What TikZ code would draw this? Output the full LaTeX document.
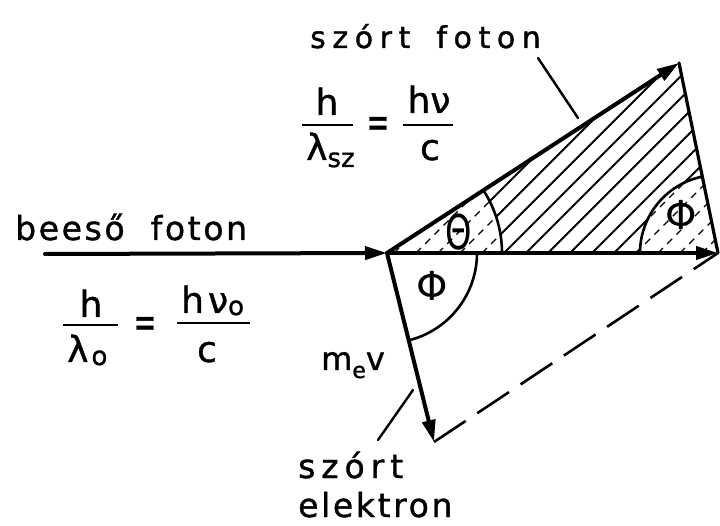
\documentclass[tikz,border=0pt]{standalone}
\usepackage{fontspec}
\usepackage{graphicx}
\setmainfont{DejaVu Sans}
\newfontfamily\frmfont[FakeBold=1.1]{DejaVu Sans}
\newfontfamily\labA[LetterSpace=8,FakeBold=1.2]{DejaVu Sans}
\newfontfamily\labB[LetterSpace=22,FakeBold=1.2]{DejaVu Sans}
\newfontfamily\labC[LetterSpace=18,FakeBold=1.2]{DejaVu Sans}
\newfontfamily\labD[LetterSpace=8,FakeBold=1.2]{DejaVu Sans}
\usetikzlibrary{arrows.meta}
\tikzset{
  vec/.style={line width=4pt, line cap=round, -{Triangle[length=22pt,width=13pt]}},
  edgeline/.style={line width=3.2pt, line cap=round},
  hatch/.style={line width=2pt},
  arcline/.style={line width=2.6pt},
  leader/.style={line width=2.4pt, line cap=round},
  fracbar/.style={line width=2.6pt},
  frm/.style={font=\frmfont\fontsize{36}{40}\selectfont, inner sep=0pt},
  ang/.style={font=\fontsize{40}{44}\selectfont, inner sep=0pt},
}
\begin{document}
\begin{tikzpicture}[x=1pt,y=1pt]
\useasboundingbox (0,0) rectangle (720,525);
% key points
\coordinate (S) at (45,271);
\coordinate (O) at (387,272);
\coordinate (P) at (679,462);
\coordinate (R) at (718,272);
\coordinate (E) at (434,83);
% hatching of the triangle
\begin{scope}
  \clip (O) -- (P) -- (R) -- cycle;
  \foreach \k in {-9,...,7} \draw[hatch] (570+22*\k,272) -- ++(45:380pt);
\end{scope}
\fill[white] (O) -- ++(0:115pt) arc[start angle=0,end angle=33.05,radius=115pt] -- cycle;
\fill[white] (R) -- ++(180:78pt) arc[start angle=180,end angle=101.6,radius=78pt] -- cycle;
\begin{scope}
  \clip (O) -- ++(0:115pt) arc[start angle=0,end angle=33.05,radius=115pt] -- cycle;
  \foreach \k in {-9,...,7} \draw[hatch, line width=1.3pt, dash pattern=on 7pt off 6pt] (570+22*\k,272) -- ++(45:380pt);
\end{scope}
\begin{scope}
  \clip (R) -- ++(180:78pt) arc[start angle=180,end angle=101.6,radius=78pt] -- cycle;
  \foreach \k in {-9,...,7} \draw[hatch, line width=1.3pt, dash pattern=on 7pt off 6pt] (570+22*\k,272) -- ++(45:380pt);
\end{scope}
% angle arcs
\draw[arcline] (O) ++(0:115pt) arc[start angle=0,end angle=33.05,radius=115pt];
\draw[arcline] (O) ++(0:90pt) arc[start angle=0,end angle=-76,radius=90pt];
\draw[arcline] (R) ++(180:78pt) arc[start angle=180,end angle=101.6,radius=78pt];
% vectors
\draw[edgeline] (P) -- (R);
\draw[line width=2.6pt, dash pattern=on 38pt off 14pt] (E) -- (R);
\draw[vec] (S) -- (O);
\draw[vec] (O) -- (R);
\draw[vec] (O) -- (P);
\draw[vec] (O) -- (E);
% angle labels
\node[ang] (th) at (459,293) {\scalebox{0.7}[1]{\fontsize{48}{50}\selectfont Θ}};
\node[ang] (phR) at (681,310) {Φ};
\node[ang] (phO) at (432,239) {Φ};
% labels
\node[font=\labB\fontsize{30}{34}\selectfont, inner sep=0pt, anchor=base west] (tf) at (310,477) {szórt\hspace{26pt}foton};
\node[font=\labA\fontsize{33}{36}\selectfont, inner sep=0pt, anchor=base west] (bf) at (15,285) {beeső\hspace{26pt}foton};
\node[font=\labC\fontsize{33}{36}\selectfont, inner sep=0pt, anchor=base west] (se1) at (298,47) {szórt};
\node[font=\labD\fontsize{33}{36}\selectfont, inner sep=0pt, anchor=base west] (se2) at (298,8) {elektron};
\node[font=\frmfont\fontsize{32}{34}\selectfont, inner sep=0pt, anchor=base west] (mv) at (321,155) {m\raisebox{-8pt}{\fontsize{22}{22}\selectfont e}v};
% leader lines
\coordinate (tfa) at (538,467);
\coordinate (tfb) at (578,407);
\coordinate (sea) at (413,135);
\coordinate (seb) at (378,85);
\draw[leader] (tfa) -- (tfb);
\draw[leader] (sea) -- (seb);
% formula: scattered photon
\node[frm, anchor=base] (n1) at (327,410) {h};
\draw[fracbar] (302,400) -- (353,400);
\node[frm, anchor=base west] (d1) at (306,365) {λ\raisebox{-7pt}{\fontsize{26}{26}\selectfont sz}};
\node[frm] (eq1) at (378,398) {\scalebox{0.75}[1.2]{=}};
\node[frm, anchor=base] (n2) at (429,412) {hν};
\draw[fracbar] (403,400) -- (453,400);
\node[frm, anchor=base] (d2) at (430,365) {c};
% formula: incoming photon
\node[frm, anchor=base] (n3) at (91,208) {h};
\draw[fracbar] (63,200) -- (118,200);
\node[frm, anchor=base west] (d3) at (67,163) {λ\hspace{3pt}\raisebox{-3pt}{\fontsize{26}{26}\selectfont o}};
\node[frm] (eq2) at (145,198) {\scalebox{0.75}[1.2]{=}};
\node[frm, anchor=base west] (n4) at (181,212) {h\hspace{4pt}ν\raisebox{-2pt}{\fontsize{26}{26}\selectfont o}};
\draw[fracbar] (177,202) -- (250,202);
\node[frm, anchor=base] (d4) at (207,163) {c};
\end{tikzpicture}
\end{document}
